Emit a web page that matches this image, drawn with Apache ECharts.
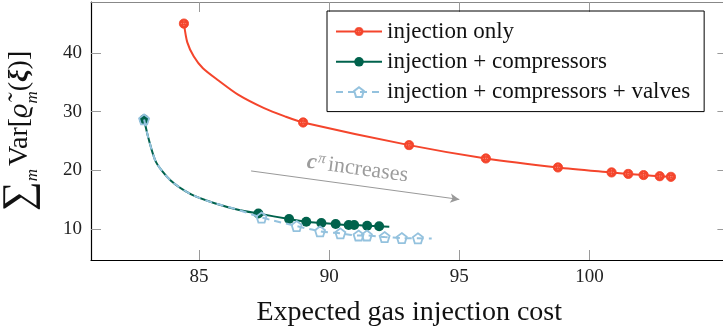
<!DOCTYPE html>
<html>
<head>
<meta charset="utf-8">
<script src="https://cdn.jsdelivr.net/npm/echarts@6/dist/echarts.min.js"></script>
<style>
  html, body { margin: 0; padding: 0; background: #fff; }
  #chart { width: 723px; height: 336px; }
</style>
</head>
<body>
<div id="chart"></div>
<script>
// Axis ticks
const costTicks = [85, 90, 95, 100];
const varTicks = [10, 20, 30, 40];

// Series names
const seriesNames = ['injection only', 'injection + compressors', 'injection + compressors + valves'];

// injection only: marked solutions and unmarked points along the frontier
const injOnlyMarks = [[84.42, 45.0], [89.0, 28.16], [93.07, 24.3], [96.02, 22.03], [98.79, 20.5],
  [100.85, 19.65], [101.49, 19.4], [102.08, 19.2], [102.7, 19.0], [103.13, 18.9]];
const injOnlyPath = [[84.55, 41.8], [84.80, 39.4], [85.15, 37.4], [85.75, 35.3], [86.50, 32.9],
  [87.50, 30.6], [88.30, 29.2]];

// injection + compressors
const compMarks = [[82.89, 28.67], [87.28, 12.64], [88.46, 11.7], [89.12, 11.24], [89.7, 11.02],
  [90.25, 10.85], [90.75, 10.68], [90.96, 10.68], [91.46, 10.55], [91.92, 10.48]];
const compPath = [[83.05, 25.6], [83.35, 21.4], [83.90, 18.3], [84.70, 15.9], [85.60, 14.4],
  [86.50, 13.3], [92.31, 10.39]];

// injection + compressors + valves
const valveMarks = [[82.89, 28.67], [87.40, 11.96], [88.75, 10.51], [89.65, 9.61], [90.43, 9.27],
  [91.13, 8.9], [91.45, 8.9], [92.13, 8.64], [92.79, 8.47], [93.41, 8.42]];
const valvePath = [[83.05, 25.6], [83.35, 21.4], [83.90, 18.3], [84.70, 15.9], [85.60, 14.4],
  [86.50, 13.3], [93.94, 8.38]];

// Direction arrow: c^pi increases
const arrowFrom = [87.0, 19.9];
const arrowTo = [95.0, 15.05];

const RED = '#f4452c';
const GREEN = '#00624c';
const BLUE = '#94c2de';
const FONT = "'Liberation Serif', 'Times New Roman', serif";

const oplusIcon = 'image://data:image/svg+xml;utf8,' + encodeURIComponent(
  "<svg xmlns='http://www.w3.org/2000/svg' width='40' height='40' viewBox='0 0 40 40'>" +
  "<circle cx='20' cy='20' r='17' fill='" + RED + "' stroke='" + RED + "' stroke-width='3'/>" +
  "<path d='M20 9V31M9 20H31' stroke='#ff9a88' stroke-width='3' stroke-dasharray='3 5'/></svg>");
const pentagon = 'path://M0,-10 L9.51,-3.09 L5.88,8.09 L-5.88,8.09 L-9.51,-3.09 Z';

// Merge marked and unmarked points into one line, ordered by cost
function buildLine(marks, path) {
  const pts = marks.map(p => ({ value: p, marked: true }))
    .concat(path.map(p => ({ value: p, marked: false })));
  pts.sort((a, b) => a.value[0] - b.value[0]);
  return pts.map(p => p.marked ? { value: p.value } : { value: p.value, symbol: 'none' });
}

const serifText = (size, extra) => Object.assign({ fontSize: size, fontFamily: FONT, color: '#111' }, extra || {});

const chart = echarts.init(document.getElementById('chart'), null, { renderer: 'canvas' });

const xBase = {
  type: 'value', min: 80.85, max: 105.3,
  splitLine: { show: false },
  axisTick: { show: true, inside: true, length: 10, lineStyle: { color: '#9a9a9a', width: 1 }, customValues: costTicks },
};
const yBase = {
  type: 'value', min: 4.73, max: 48.68,
  splitLine: { show: false },
  axisTick: { show: true, inside: true, length: 10, lineStyle: { color: '#9a9a9a', width: 1 }, customValues: varTicks },
};

chart.setOption({
  animation: false,
  backgroundColor: '#fff',
  textStyle: { fontFamily: FONT },
  grid: { left: 91, right: -4.4, top: 2, bottom: 76, containLabel: false, outerBoundsMode: 'none' },
  xAxis: [
    Object.assign({}, xBase, {
      position: 'bottom',
      axisLine: { show: true, onZero: false, lineStyle: { color: '#000', width: 1.2 } },
      axisLabel: {
        customValues: costTicks, margin: 8, formatter: '{n|{value}}',
        rich: { n: serifText(19, { color: '#222' }) }
      },
      name: 'Expected gas injection cost',
      nameLocation: 'middle', nameGap: 39,
      nameTextStyle: serifText(28)
    }),
    Object.assign({}, xBase, {
      position: 'top',
      axisLine: { show: true, onZero: false, lineStyle: { color: '#888', width: 1.2 } },
      axisLabel: { show: false }
    })
  ],
  yAxis: [
    Object.assign({}, yBase, {
      position: 'left',
      axisLine: { show: true, onZero: false, lineStyle: { color: '#000', width: 1.2 } },
      axisLabel: {
        customValues: varTicks, margin: 9, formatter: '{n|{value}}',
        rich: { n: serifText(19, { color: '#222' }) }
      },
      name: '{sum|∑}{sub|m} {rm|Var[}{it|ϱ̃}{sub|m}{rm|(}{bx|ξ}{rm|)]}',
      nameLocation: 'middle', nameGap: 50, nameRotate: 90,
      nameTextStyle: {
        fontFamily: FONT, color: '#111',
        rich: {
          sum: serifText(42),
          sub: serifText(17, { fontStyle: 'italic', verticalAlign: 'bottom', padding: [16, 0, 0, 0] }),
          rm: serifText(28),
          it: serifText(28, { fontStyle: 'italic' }),
          bx: serifText(28, { fontStyle: 'italic', fontWeight: 'bold' })
        }
      }
    }),
    Object.assign({}, yBase, {
      position: 'right',
      axisLine: { show: true, onZero: false, lineStyle: { color: '#888', width: 1.2 } },
      axisLabel: { show: false }
    })
  ],
  legend: {
    orient: 'vertical', left: 327, top: 11,
    padding: [9, 14, 8, 8], itemGap: 7.3,
    itemWidth: 46, itemHeight: 12,
    borderColor: '#000', borderWidth: 1, borderRadius: 0,
    data: seriesNames,
    formatter: '{t|{name}}',
    textStyle: { fontFamily: FONT, fontSize: 23, color: '#111', rich: { t: serifText(23, { lineHeight: 22 }) } }
  },
  series: [
    {
      name: seriesNames[0], type: 'line',
      data: buildLine(injOnlyMarks, injOnlyPath),
      smooth: 0.25,
      symbol: oplusIcon, symbolSize: 11,
      lineStyle: { color: RED, width: 2 },
      itemStyle: { color: RED },
      z: 3
    },
    {
      name: seriesNames[1], type: 'line',
      data: buildLine(compMarks, compPath),
      smooth: 0.25,
      symbol: 'circle', symbolSize: 10,
      lineStyle: { color: GREEN, width: 2 },
      itemStyle: { color: GREEN },
      z: 4
    },
    {
      name: seriesNames[2], type: 'line',
      data: buildLine(valveMarks, valvePath),
      smooth: 0.25,
      symbol: pentagon, symbolSize: 10,
      lineStyle: { color: BLUE, width: 2, type: [7, 5] },
      itemStyle: { color: 'rgba(255,255,255,0)', borderColor: BLUE, borderWidth: 1.8 },
      z: 5,
      markLine: {
        silent: true,
        symbol: ['none', 'arrow'], symbolSize: [7, 9],
        lineStyle: { color: '#999', width: 1, type: 'solid' },
        label: {
          show: true, position: 'insideMiddleTop', distance: 4,
          formatter: '{c|c}{pi|π} {t|increases}',
          rich: {
            c: serifText(22, { fontStyle: 'italic', fontWeight: 'bold', color: '#9c9c9c' }),
            pi: serifText(15, { fontStyle: 'italic', color: '#9c9c9c', verticalAlign: 'top', padding: [0, 0, 10, 1] }),
            t: serifText(22, { color: '#9c9c9c' })
          }
        },
        data: [[{ coord: arrowFrom }, { coord: arrowTo }]]
      }
    }
  ]
});
</script>
</body>
</html>
